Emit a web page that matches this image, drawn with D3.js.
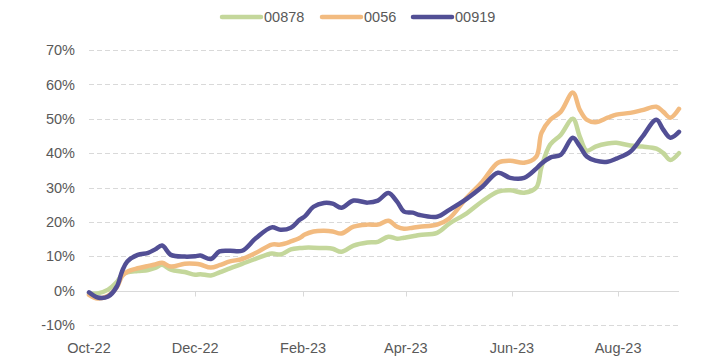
<!DOCTYPE html>
<meta charset="utf-8">
<head>
  <meta charset="utf-8">
  <script src="https://d3js.org/d3.v7.min.js"></script>
  <style>
    body { margin: 0; background: #fff; }
    text { font-family: "Liberation Sans", Arial, sans-serif; fill: #595959; }
  </style>
</head>
<body>
<svg width="712" height="363"></svg>
<script>
// dates of the readings (roughly weekly)
var dates = ["2022-10-01","2022-10-06","2022-10-12","2022-10-17","2022-10-20","2022-10-23","2022-10-29",
  "2022-11-04","2022-11-08","2022-11-12","2022-11-17","2022-11-25","2022-12-01","2022-12-04","2022-12-10",
  "2022-12-15","2022-12-21","2022-12-28","2023-01-05","2023-01-14","2023-01-19","2023-01-25","2023-01-30",
  "2023-02-02","2023-02-07","2023-02-13","2023-02-18","2023-02-23","2023-03-02","2023-03-10","2023-03-16",
  "2023-03-22","2023-03-27","2023-03-31","2023-04-05","2023-04-09","2023-04-19","2023-04-26","2023-05-06",
  "2023-05-15","2023-05-24","2023-05-31","2023-06-08","2023-06-15","2023-06-18","2023-06-23","2023-06-29",
  "2023-07-06","2023-07-10","2023-07-14","2023-07-19","2023-07-26","2023-07-31","2023-08-08","2023-08-15",
  "2023-08-23","2023-08-27","2023-08-31","2023-09-05"];

// cumulative return, %
var s00878 = [-0.9,-0.8,0.3,2.5,4.6,5.3,5.7,6,6.6,7.5,6.1,5.4,4.6,4.8,4.4,5.3,6.5,7.8,9.3,10.8,10.5,12,12.4,
  12.5,12.5,12.4,12.2,11.3,13.1,14,14.2,15.7,15.1,15.4,15.8,16.2,16.8,19.5,22.5,26,28.8,29.2,28.5,30,36,42.5,
  45.3,50,44.8,40.7,41.9,42.8,43,42.2,41.9,41.3,40,38,40];
var s0056 = [-1.2,-2.3,-1.5,1,4.2,5.5,6.5,7.2,7.6,8.1,7,7.8,7.8,7.6,6.7,7.4,8.5,9.2,11,13.4,13.4,14.3,15.3,
  16.3,17.2,17.4,17.2,16.6,18.6,19.2,19.2,20.3,18.6,18,18.3,18.6,19.2,21,27,31.7,37.2,37.8,37.2,39,45.9,49.7,
  52,57.6,52.6,49.7,49,50.3,51.2,51.7,52.5,53.5,52,50.3,52.9];
var s00919 = [-0.5,-2,-1.7,1.2,5.6,8.5,10.4,11,12,13.1,10.4,9.9,10,10.2,9.2,11.4,11.6,11.6,15.3,18.4,17.7,18.3,20.6,
  21.6,24.4,25.5,25.3,24.1,26.2,25.6,26.2,28.4,25.9,23,22.7,22,21.5,23.5,26.7,30.2,34.3,32.8,32.8,35.5,37,38.7,
  39.5,44.5,42,39,37.8,37.5,38.4,40.4,44.8,49.7,46.8,44.5,46.2];

var seriesNames = ["00878", "0056", "00919"];
var seriesColors = ["#c4d79b", "#f2bb80", "#524f95"];
var yTicks = [-10, 0, 10, 20, 30, 40, 50, 60, 70];
var xTicks = ["2022-10-01","2022-12-01","2023-02-01","2023-04-01","2023-06-01","2023-08-01"];

var parse = d3.timeParse("%Y-%m-%d");
var svg = d3.select("svg");

var x = d3.scaleTime()
  .domain([parse(dates[0]), parse(dates[dates.length - 1])])
  .range([89, 679]);
var y = d3.scaleLinear().domain([-10, 70]).range([325, 50]);

// grid lines
svg.append("g").selectAll("line")
  .data(yTicks)
  .enter().append("line")
    .attr("x1", x.range()[0]).attr("x2", x.range()[1])
    .attr("y1", function(d){ return Math.round(y(d)) + 0.5 })
    .attr("y2", function(d){ return Math.round(y(d)) + 0.5 })
    .attr("stroke", "#d9d9d9")
    .attr("stroke-width", 1)
    .attr("stroke-dasharray", function(d){ return d == 0 ? null : "5,3" });

// y labels
svg.append("g").selectAll("text")
  .data(yTicks)
  .enter().append("text")
    .attr("x", 75)
    .attr("y", function(d){ return y(d) })
    .attr("dy", "0.36em")
    .attr("text-anchor", "end")
    .style("font-size", "14.5px")
    .text(function(d){ return d + "%" });

// x ticks on the zero line, labels at the bottom
var x0 = Math.round(y(0)) + 0.5;
svg.append("g").selectAll("line")
  .data(xTicks)
  .enter().append("line")
    .attr("x1", function(d){ return Math.round(x(parse(d))) + 0.5 })
    .attr("x2", function(d){ return Math.round(x(parse(d))) + 0.5 })
    .attr("y1", x0).attr("y2", x0 + 5)
    .attr("stroke", "#d9d9d9");

svg.append("g").selectAll("text")
  .data(xTicks)
  .enter().append("text")
    .attr("x", function(d){ return x(parse(d)) })
    .attr("y", 353)
    .attr("text-anchor", "middle")
    .style("font-size", "14.5px")
    .text(function(d){ return d3.timeFormat("%b-%y")(parse(d)) });

// lines
var allSeries = [s00878, s0056, s00919];
var line = d3.line()
  .x(function(d){ return x(d.date) })
  .y(function(d){ return y(d.value) })
  .curve(d3.curveCatmullRom.alpha(0.5));

allSeries.forEach(function(vals, i) {
  var pts = vals.map(function(v, j){ return {date: parse(dates[j]), value: v} });
  svg.append("path")
    .datum(pts)
    .attr("d", line)
    .attr("fill", "none")
    .attr("stroke", seriesColors[i])
    .attr("stroke-width", 4.5)
    .attr("stroke-linejoin", "round")
    .attr("stroke-linecap", "round");
});

// legend
var legendX = [222, 322, 413];
var legend = svg.append("g").selectAll("g")
  .data(seriesNames)
  .enter().append("g")
    .attr("transform", function(d, i){ return "translate(" + legendX[i] + ",17)" });
legend.append("line")
  .attr("x1", 0).attr("x2", 39).attr("y1", 0).attr("y2", 0)
  .attr("stroke", function(d, i){ return seriesColors[i] })
  .attr("stroke-width", 4.5)
  .attr("stroke-linecap", "round");
legend.append("text")
  .attr("x", 42)
  .attr("dy", "0.36em")
  .style("font-size", "14.5px")
  .text(function(d){ return d });
</script>
</body>
